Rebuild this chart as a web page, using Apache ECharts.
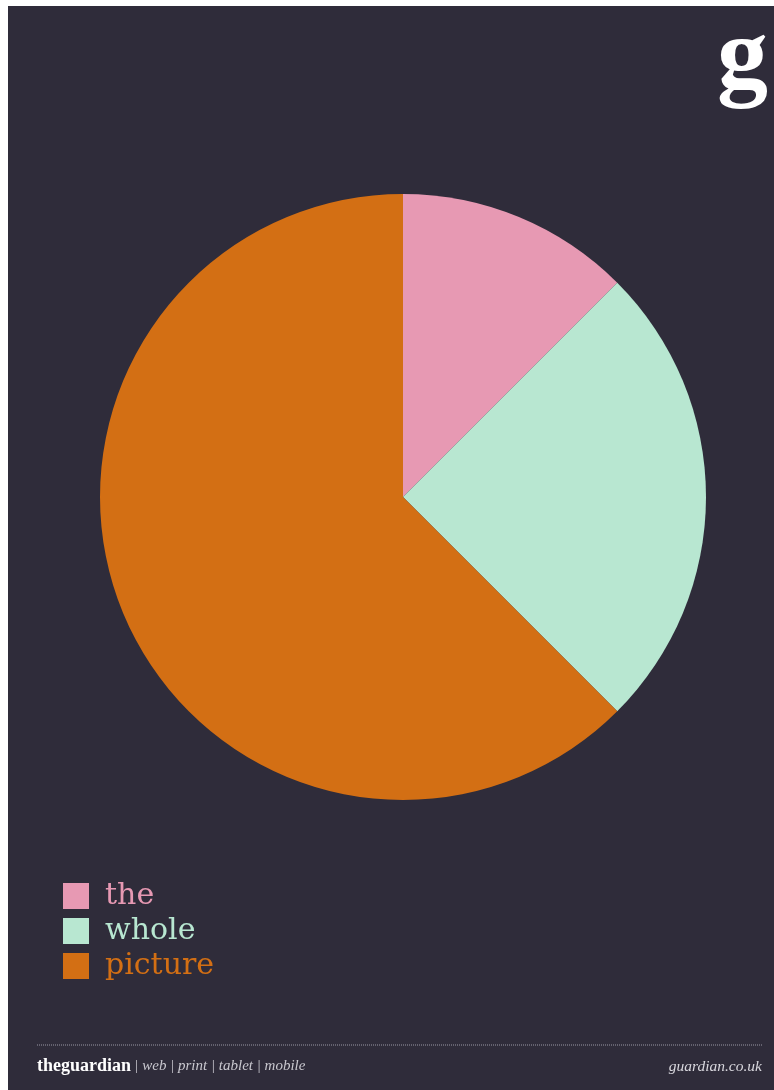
<!DOCTYPE html>
<html>
<head>
<meta charset="utf-8">
<script src="https://cdn.jsdelivr.net/npm/echarts@6/dist/echarts.min.js"></script>
<style>
  html, body { margin: 0; padding: 0; background: #ffffff; }
  #chart { width: 774px; height: 1090px; }
</style>
</head>
<body>
<div id="chart"></div>
<script>
// Slice data (clockwise from 12 o'clock)
const labels = ['the', 'whole', 'picture'];
const values = [12.5, 25, 62.5];
const colors = ['#e799b3', '#b8e7d1', '#d36f14'];

const chart = echarts.init(document.getElementById('chart'));

const pieData = labels.map(function (name, i) {
  return { name: name, value: values[i], itemStyle: { color: colors[i] } };
});

const legendData = labels.map(function (name, i) {
  return { name: name, textStyle: { color: colors[i] } };
});

const option = {
  backgroundColor: '#ffffff',
  animation: false,
  legend: {
    orient: 'vertical',
    left: 63,
    top: 881,
    padding: 0,
    itemWidth: 26,
    itemHeight: 26,
    itemGap: 5,
    icon: 'rect',
    selectedMode: false,
    data: legendData,
    textStyle: {
      fontFamily: 'DejaVu Serif',
      fontSize: 30,
      padding: [3, 0, 0, 11]
    }
  },
  graphic: [
    {
      type: 'rect',
      z: -10,
      shape: { x: 8, y: 6, width: 766, height: 1084 },
      style: { fill: '#2f2c3a' }
    },
    {
      // the "g" logo
      type: 'text',
      right: 6,
      top: 10,
      style: {
        text: 'g',
        fill: '#ffffff',
        font: 'bold 102px "Liberation Serif"'
      }
    },
    {
      type: 'line',
      shape: { x1: 37, y1: 1045, x2: 763, y2: 1045 },
      style: { stroke: '#9a98a4', lineWidth: 1, lineDash: [1, 1] }
    },
    {
      type: 'text',
      left: 37,
      top: 1057,
      style: {
        text: '{b|theguardian} {s|| web | print | tablet | mobile}',
        rich: {
          b: { font: 'bold 18px "Liberation Serif"', fill: '#ffffff' },
          s: { font: 'italic 15px "Liberation Serif"', fill: '#c9c8cf' }
        }
      }
    },
    {
      type: 'text',
      right: 12,
      top: 1059,
      style: {
        text: 'guardian.co.uk',
        fill: '#d8d7dd',
        font: 'italic 15.5px "Liberation Serif"'
      }
    }
  ],
  series: [
    {
      type: 'pie',
      center: [403, 497],
      radius: 303,
      startAngle: 90,
      clockwise: true,
      label: { show: false },
      labelLine: { show: false },
      emphasis: { disabled: true },
      itemStyle: { borderWidth: 0 },
      data: pieData
    }
  ]
};

chart.setOption(option);
</script>
</body>
</html>
